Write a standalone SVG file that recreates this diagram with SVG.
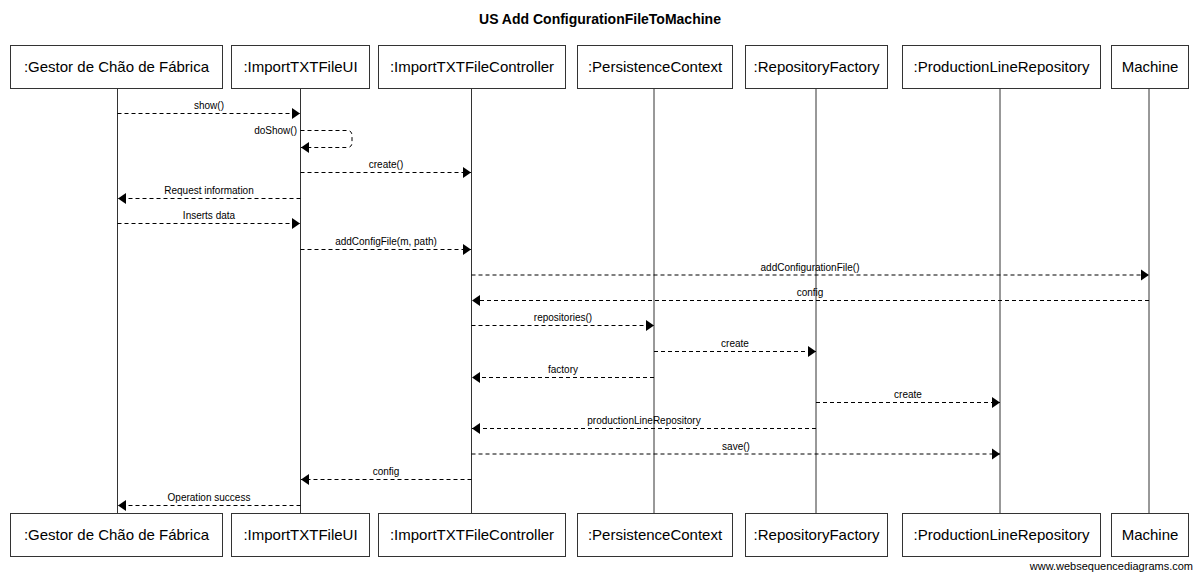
<svg xmlns="http://www.w3.org/2000/svg" width="1200" height="576" viewBox="0 0 1200 576">
<style>
.bg{fill:#fff}
.box{fill:#fff;stroke:#333;stroke-width:1}
.bt{font-family:"Liberation Sans",Arial,sans-serif;font-size:15px;fill:#000;text-anchor:middle}
.life{stroke:#333;stroke-width:1}
.msg{fill:none;stroke:#000;stroke-width:1;stroke-dasharray:4,3;marker-end:url(#ah)}
.lbl{font-family:"Liberation Sans",Arial,sans-serif;font-size:10px;fill:#000;text-anchor:middle}
.title{font-family:"Liberation Sans",Arial,sans-serif;font-size:14px;font-weight:bold;fill:#000;text-anchor:middle}
.wm{font-family:"Liberation Sans",Arial,sans-serif;font-size:11px;fill:#000;text-anchor:end}
</style>
<defs>
<marker id="ah" markerUnits="userSpaceOnUse" markerWidth="9" markerHeight="12" refX="8" refY="6" orient="auto">
<path d="M0,0.5 L8,6 L0,11.5 z" fill="#000"/>
</marker>
</defs>
<rect class="bg" x="0" y="0" width="1200" height="576"/>
<text class="title" x="600" y="24">US Add ConfigurationFileToMachine</text>

<g id="gestor">
<line class="life" x1="117.5" y1="88" x2="117.5" y2="513"/>
<rect class="box" x="10.5" y="45.5" width="212" height="43"/>
<text class="bt" x="116.5" y="72">:Gestor de Chão de Fábrica</text>
<rect class="box" x="10.5" y="513.5" width="212" height="43"/>
<text class="bt" x="116.5" y="540">:Gestor de Chão de Fábrica</text>
</g>
<g id="ui">
<line class="life" x1="300.5" y1="88" x2="300.5" y2="513"/>
<rect class="box" x="231.5" y="45.5" width="138" height="43"/>
<text class="bt" x="300.5" y="72">:ImportTXTFileUI</text>
<rect class="box" x="231.5" y="513.5" width="138" height="43"/>
<text class="bt" x="300.5" y="540">:ImportTXTFileUI</text>
</g>
<g id="controller">
<line class="life" x1="471.5" y1="88" x2="471.5" y2="513"/>
<rect class="box" x="378.5" y="45.5" width="187" height="43"/>
<text class="bt" x="472" y="72">:ImportTXTFileController</text>
<rect class="box" x="378.5" y="513.5" width="187" height="43"/>
<text class="bt" x="472" y="540">:ImportTXTFileController</text>
</g>
<g id="persistence">
<line class="life" x1="654" y1="88" x2="654" y2="513"/>
<rect class="box" x="577.5" y="45.5" width="155" height="43"/>
<text class="bt" x="655" y="72">:PersistenceContext</text>
<rect class="box" x="577.5" y="513.5" width="155" height="43"/>
<text class="bt" x="655" y="540">:PersistenceContext</text>
</g>
<g id="factory">
<line class="life" x1="816" y1="88" x2="816" y2="513"/>
<rect class="box" x="745.5" y="45.5" width="142" height="43"/>
<text class="bt" x="816.5" y="72">:RepositoryFactory</text>
<rect class="box" x="745.5" y="513.5" width="142" height="43"/>
<text class="bt" x="816.5" y="540">:RepositoryFactory</text>
</g>
<g id="prodrepo">
<line class="life" x1="1000" y1="88" x2="1000" y2="513"/>
<rect class="box" x="902.5" y="45.5" width="198" height="43"/>
<text class="bt" x="1001.5" y="72">:ProductionLineRepository</text>
<rect class="box" x="902.5" y="513.5" width="198" height="43"/>
<text class="bt" x="1001.5" y="540">:ProductionLineRepository</text>
</g>
<g id="machine">
<line class="life" x1="1149" y1="88" x2="1149" y2="513"/>
<rect class="box" x="1111.5" y="45.5" width="77" height="43"/>
<text class="bt" x="1150" y="72">Machine</text>
<rect class="box" x="1111.5" y="513.5" width="77" height="43"/>
<text class="bt" x="1150" y="540">Machine</text>
</g>

<g id="connectors">
<path class="msg" d="M117.5,113.5 H300"/>
<text class="lbl" x="209" y="109">show()</text>
<path class="msg" d="M300.5,130.5 H347 Q352,130.5 352,135.5 V142.5 Q352,147.5 347,147.5 H301"/>
<text class="lbl" x="297" y="134" style="text-anchor:end">doShow()</text>
<path class="msg" d="M300.5,172.5 H471"/>
<text class="lbl" x="386" y="168">create()</text>
<path class="msg" d="M300.5,198.5 H118"/>
<text class="lbl" x="209" y="194">Request information</text>
<path class="msg" d="M117.5,223.5 H300"/>
<text class="lbl" x="209" y="219">Inserts data</text>
<path class="msg" d="M300.5,249.5 H471"/>
<text class="lbl" x="386" y="245">addConfigFile(m, path)</text>
<path class="msg" d="M471.5,275 H1149"/>
<text class="lbl" x="810" y="271">addConfigurationFile()</text>
<path class="msg" d="M1149,300.5 H472"/>
<text class="lbl" x="810" y="296">config</text>
<path class="msg" d="M471.5,325.5 H654"/>
<text class="lbl" x="563" y="321">repositories()</text>
<path class="msg" d="M654,351.5 H816"/>
<text class="lbl" x="735" y="347">create</text>
<path class="msg" d="M654,377.5 H472"/>
<text class="lbl" x="563" y="373">factory</text>
<path class="msg" d="M816,402.5 H1000"/>
<text class="lbl" x="908" y="398">create</text>
<path class="msg" d="M816,428.5 H472"/>
<text class="lbl" x="644" y="424">productionLineRepository</text>
<path class="msg" d="M471.5,454 H1000"/>
<text class="lbl" x="736" y="450">save()</text>
<path class="msg" d="M471.5,479.5 H301"/>
<text class="lbl" x="386" y="475">config</text>
<path class="msg" d="M300.5,505.5 H118"/>
<text class="lbl" x="209" y="501">Operation success</text>
</g>
<text class="wm" x="1193" y="570">www.websequencediagrams.com</text>
</svg>
